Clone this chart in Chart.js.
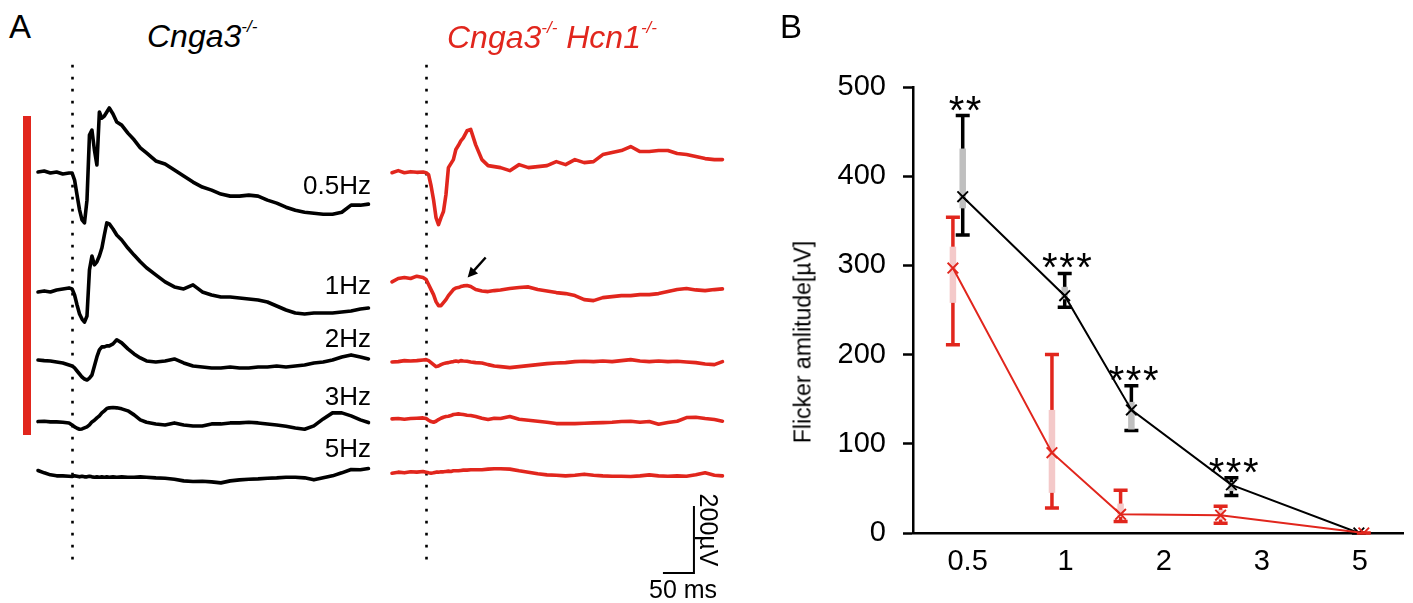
<!DOCTYPE html>
<html><head><meta charset="utf-8">
<script src="https://cdn.jsdelivr.net/npm/chart.js@4.4.1/dist/chart.umd.min.js"></script>
<style>
html,body{margin:0;padding:0;background:#fff;}
#fig{position:relative;width:1413px;height:603px;overflow:hidden;font-family:"Liberation Sans",Arial,sans-serif;color:#000;}
canvas{position:absolute;}
.t{position:absolute;white-space:nowrap;}
</style></head><body>
<div id="fig">
<canvas id="cA1" width="390" height="540" style="left:0px;top:60px"></canvas>
<canvas id="cA2" width="390" height="540" style="left:385px;top:60px"></canvas>
<canvas id="cB" width="633" height="603" style="left:780px;top:0px"></canvas>
</div>
<script>
// ---------------- DATA ----------------
// Panel A: ERG traces (time in ms from stimulus, amplitude in µV relative to pre-stimulus level)
const timeMs = [-55,-45,-35,-25,-15,-5,0,4,8,12,16,20,24,28,32,36,40,44,48,52,56,60,66,72,80,90,100,110,120,135,150,165,180,195,210,225,240,255,270,285,300,315,330,345,360,375,390,405,420,435,450,465,478];
const freqNames = ['0.5Hz','1Hz','2Hz','3Hz','5Hz'];

// Cnga3-/- (black)
const ctrl05 = [0,3,-3,0,-6,-3,-3,-24,-69,-113,-143,-152,-84,110,125,66,21,179,161,167,179,191,173,149,140,116,96,72,57,33,24,6,-12,-30,-45,-54,-66,-72,-72,-69,-72,-84,-93,-105,-114,-120,-123,-126,-126,-120,-99,-99,-96];
const ctrl1  = [0,3,0,6,9,12,9,-9,-39,-66,-81,-90,-72,66,107,81,90,107,131,170,206,203,188,170,155,131,110,90,72,51,30,15,9,21,0,-9,-15,-15,-18,-21,-24,-30,-42,-54,-63,-66,-63,-63,-63,-60,-57,-51,-48];
const ctrl2  = [0,-2,-3,-6,-9,-15,-18,-24,-33,-42,-51,-57,-60,-54,-45,-18,9,30,39,39,42,42,48,60,51,33,18,6,-3,-6,-3,3,-9,-18,-21,-24,-24,-21,-24,-24,-21,-21,-18,-21,-18,-15,-9,-6,0,9,15,9,3];
const ctrl3  = [0,1,-1,-1,-2,-4,-10,-16,-20,-23,-22,-19,-16,-10,-1,4,11,17,26,32,39,41,42,41,38,32,20,5,-2,-7,-10,-4,-10,-13,-13,-7,-7,-4,-4,-2,-4,-7,-10,-14,-19,-23,-13,8,26,26,17,5,-3];
const ctrl5  = [16,9,3,0,0,-1,-2,0,-1,-3,-1,-3,-3,-1,-3,-4,-3,-4,-3,-4,-3,-4,-3,-4,-3,-4,-4,-3,-4,-6,-7,-10,-15,-17,-16,-18,-21,-15,-12,-10,-9,-7,-6,-4,-4,-6,-12,-6,0,9,19,18,22];

// Cnga3-/- Hcn1-/- (red)
const dko05 = [-2,4,-2,1,-1,0,-2,-8,-41,-83,-136,-157,-136,-118,-68,13,25,37,67,79,93,102,123,127,81,37,19,16,13,4,22,13,16,19,31,22,37,28,31,52,58,64,76,61,61,64,64,55,52,46,40,37,37];
const dko1  = [-7,3,6,3,10,6,0,-15,-30,-45,-66,-78,-78,-69,-60,-48,-39,-30,-25,-24,-21,-19,-18,-21,-30,-34,-36,-33,-31,-27,-24,-22,-30,-34,-39,-42,-48,-60,-63,-54,-51,-48,-48,-45,-45,-42,-36,-30,-27,-31,-33,-30,-28];
const dko2  = [-2,-1,2,1,2,4,5,2,-4,-10,-16,-14,-10,-7,-5,-4,-2,-1,1,-1,2,1,0,-2,-4,-5,-10,-14,-16,-19,-16,-13,-10,-7,-5,-4,-1,0,-1,1,-1,2,5,1,-1,1,-1,0,-2,-4,-8,-10,-1];
const dko3  = [0,1,-1,1,2,3,1,-4,-8,-10,-7,-2,2,5,7,8,10,13,14,15,14,13,11,10,7,2,-2,2,1,7,-1,-4,-7,-10,-14,-14,-14,-13,-12,-11,-10,-8,-7,-10,-8,-16,-11,-7,4,5,1,-2,-7];
const dko5  = [-2,1,-1,2,1,3,1,-1,-2,-1,1,1,2,2,3,4,3,5,5,5,6,7,7,8,8,8,10,11,11,10,5,1,-4,-7,-8,-10,-8,-5,-8,-10,-11,-11,-12,-10,-7,-10,-11,-10,-11,-7,-1,-8,-10];

// Panel B: flicker amplitude (µV)
const freqLabels = ['0.5','1','2','3','5'];
const ctrlX      = [-0.05, 0.99, 1.67, 2.69, 3.99];   // plotted positions (category index units)
const ctrlMean   = [377, 266, 138, 54, 0];
const ctrlSdLow  = [334, 253, 115, 42, 0];
const ctrlSdHigh = [468, 291, 165, 62, 0];
const ctrlSemLow = [364, 262, 116, 47, 0];
const ctrlSemHigh= [431, 276, 147, 57, 0];
const sigLabels  = ['**', '***', '***', '***', ''];

const dkoX       = [-0.15, 0.86, 1.56, 2.58, 4.04];
const dkoMean    = [297, 90, 21, 20, 0];
const dkoSdLow   = [211, 28, 13, 11, 0];
const dkoSdHigh  = [354, 200, 48, 30, 0];
const dkoSemLow  = [258, 45, 18, 15, 0];
const dkoSemHigh = [321, 138, 33, 26, 0];

// ---------------- STYLE / LAYOUT ----------------
const RED = '#e1261d', PINK = '#f4c9c9', GRAY = '#bfbfbf', BLACK = '#000';
const FONT = '"Liberation Sans", Arial, sans-serif';
Chart.defaults.font.family = FONT;
const PX_PER_MS = 0.62, PX_PER_UV = 0.335;
const A_W = 390, A_H = 540, A_TOP = 60;
const Y_MAX = (172 - A_TOP) / PX_PER_UV;           // first trace baseline sits at page y 172
const Y_MIN = Y_MAX - A_H / PX_PER_UV;
const ctrlOffsets = [0, -358, -561, -745, -907];    // stacking offsets (µV) between traces
const dkoOffsets  = [0, -321, -565, -737, -897];
const fig = document.getElementById('fig');

function traceSets(arrays, offsets, color){
  return arrays.map((vals, k) => ({
    label: freqNames[k],
    data: timeMs.map((t, i) => ({x: t, y: vals[i] + offsets[k]})),
    borderColor: color, borderWidth: 3.6, pointRadius: 0, tension: 0,
    borderJoinStyle: 'round', borderCapStyle: 'round', fill: false
  }));
}

const stimLine = {
  id: 'stimLine',
  beforeDatasetsDraw(chart){
    const {ctx, scales:{x, y}} = chart;
    const px = Math.round(x.getPixelForValue(0)) + 0.5;
    ctx.save();
    ctx.strokeStyle = BLACK; ctx.lineWidth = 2.6; ctx.setLineDash([2.6, 9.4]);
    ctx.beginPath();
    ctx.moveTo(px, y.getPixelForValue(320));
    ctx.lineTo(px, y.getPixelForValue(-1180));
    ctx.stroke();
    ctx.restore();
  }
};

const scaleBar = {
  id: 'scaleBar',
  afterDatasetsDraw(chart){
    const {ctx, scales:{x, y}} = chart;
    const t0 = 432, v0 = -1197;
    const xr = x.getPixelForValue(t0), xl = x.getPixelForValue(t0 - 50);
    const yb = y.getPixelForValue(v0), yt = y.getPixelForValue(v0 + 200);
    ctx.save();
    ctx.strokeStyle = BLACK; ctx.lineWidth = 2;
    ctx.beginPath(); ctx.moveTo(xr, yt); ctx.lineTo(xr, yb); ctx.lineTo(xl, yb); ctx.stroke();
    // arrow pointing at the b-wave remnant of the 1 Hz trace
    const ti = timeMs.indexOf(66);
    const tipX = x.getPixelForValue(67), tipY = y.getPixelForValue(dko1[ti] + dkoOffsets[1]) - 8;
    const tailX = tipX + 18, tailY = tipY - 20;
    const ang = Math.atan2(tipY - tailY, tipX - tailX);
    ctx.lineWidth = 2.4;
    ctx.beginPath(); ctx.moveTo(tailX, tailY);
    ctx.lineTo(tipX - 6 * Math.cos(ang), tipY - 6 * Math.sin(ang)); ctx.stroke();
    ctx.fillStyle = BLACK;
    ctx.beginPath();
    ctx.moveTo(tipX, tipY);
    ctx.lineTo(tipX - 10 * Math.cos(ang) + 5 * Math.sin(ang), tipY - 10 * Math.sin(ang) - 5 * Math.cos(ang));
    ctx.lineTo(tipX - 10 * Math.cos(ang) - 5 * Math.sin(ang), tipY - 10 * Math.sin(ang) + 5 * Math.cos(ang));
    ctx.closePath(); ctx.fill();
    ctx.restore();
  }
};

function traceChart(id, datasets, xMin, plugins){
  return new Chart(document.getElementById(id), {
    type: 'line',
    data: {datasets},
    options: {
      responsive: false, animation: false, devicePixelRatio: 1,
      layout: {padding: 0},
      scales: {
        x: {type: 'linear', display: false, min: xMin, max: xMin + A_W / PX_PER_MS},
        y: {type: 'linear', display: false, min: Y_MIN, max: Y_MAX}
      },
      plugins: {legend: {display: false}, tooltip: {enabled: false}},
      events: []
    },
    plugins
  });
}

traceChart('cA1', traceSets([ctrl05, ctrl1, ctrl2, ctrl3, ctrl5], ctrlOffsets, BLACK), -55 - 38 / PX_PER_MS, [stimLine]);
traceChart('cA2', traceSets([dko05, dko1, dko2, dko3, dko5], dkoOffsets, RED), -55 - 7 / PX_PER_MS, [stimLine, scaleBar]);

// ---------------- PANEL B ----------------
const groups = [
  {x: ctrlX, lo: ctrlSdLow, hi: ctrlSdHigh, slo: ctrlSemLow, shi: ctrlSemHigh, color: BLACK, sem: GRAY},
  {x: dkoX,  lo: dkoSdLow,  hi: dkoSdHigh,  slo: dkoSemLow,  shi: dkoSemHigh,  color: RED,   sem: PINK}
];
const errorBars = {
  id: 'errorBars',
  beforeDatasetsDraw(chart){
    const {ctx, scales:{x, y}} = chart;
    ctx.save();
    groups.forEach(g => {
      g.x.forEach((xv, i) => {
        const px = x.getPixelForValue(xv);
        const yl = y.getPixelForValue(g.lo[i]), yh = y.getPixelForValue(g.hi[i]);
        ctx.strokeStyle = g.color; ctx.lineWidth = 3.5; ctx.lineCap = 'butt';
        ctx.beginPath();
        ctx.moveTo(px, yl); ctx.lineTo(px, yh);
        ctx.moveTo(px - 7, yl); ctx.lineTo(px + 7, yl);
        ctx.moveTo(px - 7, yh); ctx.lineTo(px + 7, yh);
        ctx.stroke();
        const sl = y.getPixelForValue(g.slo[i]), sh = y.getPixelForValue(g.shi[i]);
        if (sl - sh > 0.5){
          ctx.strokeStyle = g.sem; ctx.lineWidth = 6.5;
          ctx.beginPath(); ctx.moveTo(px, sl); ctx.lineTo(px, sh); ctx.stroke();
        }
      });
    });
    ctx.restore();
  },
  afterDatasetsDraw(chart){
    const {ctx, scales:{x, y}} = chart;
    const SF = 40;
    ctx.save();
    ctx.fillStyle = BLACK; ctx.textAlign = 'center'; ctx.textBaseline = 'alphabetic';
    ctx.font = SF + 'px ' + FONT;
    try { ctx.letterSpacing = '1.5px'; } catch(e) {}
    sigLabels.forEach((s, i) => {
      if (!s) return;
      const cy = y.getPixelForValue(ctrlSdHigh[i]) - 15;
      ctx.fillText(s, x.getPixelForValue(ctrlX[i]) + 3, cy + 0.575 * SF);
    });
    ctx.restore();
  }
};

new Chart(document.getElementById('cB'), {
  type: 'line',
  data: {
    datasets: [
      {label: 'Cnga3-/- Hcn1-/-', data: dkoX.map((v, i) => ({x: v, y: dkoMean[i]})),
       borderColor: RED, backgroundColor: RED, borderWidth: 2, tension: 0,
       pointStyle: 'crossRot', pointRadius: 7.5, pointBorderWidth: 1.9, pointBorderColor: RED},
      {label: 'Cnga3-/-', data: ctrlX.map((v, i) => ({x: v, y: ctrlMean[i]})),
       borderColor: BLACK, backgroundColor: BLACK, borderWidth: 2, tension: 0,
       pointStyle: 'crossRot', pointRadius: 7.5, pointBorderWidth: 1.9, pointBorderColor: BLACK}
    ]
  },
  options: {
    responsive: false, animation: false, devicePixelRatio: 1,
    layout: {padding: {top: 87, right: 6, bottom: 0, left: 0}},
    scales: {
      x: {
        type: 'linear', min: -0.557, max: 4.446,
        afterBuildTicks: (axis) => { axis.ticks = freqLabels.map((_, i) => ({value: i})); },
        afterFit: (axis) => { axis.height = 70; },
        ticks: {callback: (v) => freqLabels[v] ?? '', autoSkip: false, maxRotation: 0, color: BLACK,
                font: {size: 29}, padding: 12},
        grid: {display: false, drawTicks: false},
        border: {display: true, color: BLACK, width: 2.5}
      },
      y: {
        type: 'linear', min: 0, max: 500,
        afterFit: (axis) => { axis.width = 133; },
        ticks: {stepSize: 100, color: BLACK, font: {size: 29}, padding: 17},
        grid: {display: true, drawOnChartArea: false, drawTicks: true, tickLength: 10, tickWidth: 2.5, tickColor: BLACK, color: BLACK},
        border: {display: true, color: BLACK, width: 2.5}
      }
    },
    plugins: {legend: {display: false}, tooltip: {enabled: false}},
    events: []
  },
  plugins: [errorBars]
});

// ---------------- TEXT ----------------
function addText(html, o){
  const d = document.createElement('div');
  d.className = 't'; d.innerHTML = html;
  const F = o.size;
  d.style.fontSize = F + 'px'; d.style.lineHeight = F + 'px';
  if (o.color) d.style.color = o.color;
  if (o.italic) d.style.fontStyle = 'italic';
  let tr = '';
  if (o.rotate !== undefined){
    d.style.left = o.cx + 'px'; d.style.top = o.cy + 'px';
    tr = 'translate(-50%,-50%) rotate(' + o.rotate + 'deg)';
  } else {
    d.style.top = (o.baseline - 0.8465 * F) + 'px';
    d.style.left = o.x + 'px';
    if (o.align === 'right') tr = 'translateX(-100%)';
    else if (o.align === 'center') tr = 'translateX(-50%)';
  }
  d.style.transform = tr;
  fig.appendChild(d);
}
const sup = '<span style="font-size:17px;position:relative;top:-15px">-/-</span>';
addText('A', {size: 33, x: 9, baseline: 38});
addText('B', {size: 33, x: 780, baseline: 38});
addText('Cnga3' + sup, {size: 32, x: 147, baseline: 47, italic: true});
addText('Cnga3' + sup + ' Hcn1' + sup, {size: 32, x: 447, baseline: 48, italic: true, color: RED});
const hzBaselines = [194, 294, 347, 405, 457];
freqNames.forEach((n, k) => addText(n, {size: 26, x: 371, baseline: hzBaselines[k], align: 'right'}));
addText('200µV', {size: 25, cx: 708, cy: 530, rotate: 90});
addText('50 ms', {size: 25, x: 649, baseline: 598});
addText('Flicker amlitude[µV]', {size: 23, cx: 803, cy: 342, rotate: -90});

// stimulus marker bar
const bar = document.createElement('div');
bar.style.cssText = 'position:absolute;left:23px;top:116px;width:8px;height:319px;background:' + RED;
fig.appendChild(bar);
</script>
</body></html>
